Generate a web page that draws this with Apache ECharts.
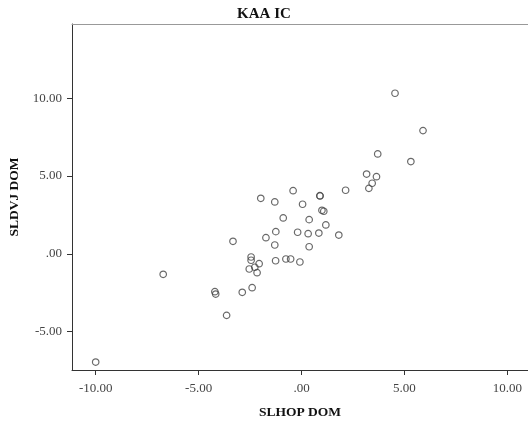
<!DOCTYPE html>
<html>
<head>
<meta charset="utf-8">
<script src="https://cdn.jsdelivr.net/npm/echarts@6/dist/echarts.min.js"></script>
<style>html,body{margin:0;padding:0;background:#fff;}#c{width:528px;height:421px;}</style>
</head>
<body>
<div id="c"></div>
<script>
const titleText = "KAA IC";
const xName = "SLHOP DOM";
const yName = "SLDVJ DOM";
const xTicks = [-10, -5, 0, 5, 10];
const yTicks = [-5, 0, 5, 10];
const xVals = [4.54, 5.90, 3.70, 5.31, 3.16, 3.64, 3.43, 3.27, 2.14, -0.41, 0.89, 0.90, -1.98, -1.30, 0.05, 0.99, 1.08, -0.89, 0.37, 1.18, -1.25, -0.19, 0.32, 0.84, 1.81, -1.73, -3.33, -1.30, 0.37, -2.45, -2.45, -1.26, -0.76, -0.53, -0.08, -2.06, -2.27, -2.54, -2.16, -6.72, -4.21, -4.17, -2.88, -2.40, -3.64, -10.0];
const yVals = [10.32, 7.92, 6.42, 5.93, 5.13, 4.96, 4.54, 4.21, 4.09, 4.06, 3.74, 3.72, 3.57, 3.34, 3.19, 2.80, 2.74, 2.31, 2.20, 1.86, 1.43, 1.39, 1.30, 1.34, 1.21, 1.04, 0.81, 0.57, 0.46, -0.20, -0.41, -0.44, -0.33, -0.33, -0.52, -0.63, -0.86, -0.97, -1.21, -1.31, -2.43, -2.58, -2.47, -2.17, -3.95, -6.95];

function fmt(v) {
  if (v === 0) return '.00';
  return v.toFixed(2);
}
const pts = xVals.map((x, i) => [x, yVals[i]]);
const chart = echarts.init(document.getElementById('c'), null, {renderer: 'canvas'});
chart.setOption({
  animation: false,
  backgroundColor: '#ffffff',
  title: {
    text: titleText, left: 'center', top: 2,
    textStyle: {fontFamily: 'Liberation Serif', fontWeight: 'bold', fontSize: 15, color: '#111'}
  },
  grid: {left: 72, top: 24, right: 0, bottom: 51, show: false, containLabel: false, outerBoundsMode: 'none'},
  xAxis: [{
    type: 'value', min: -11.15, max: 11.0, position: 'bottom',
    name: xName, nameLocation: 'middle', nameGap: 36,
    nameTextStyle: {fontFamily: 'Liberation Serif', fontWeight: 'bold', fontSize: 13.5, color: '#111'},
    splitLine: {show: false},
    axisLine: {show: true, onZero: false, lineStyle: {color: '#333', width: 1}},
    axisTick: {show: true, customValues: xTicks, length: 5, lineStyle: {color: '#333'}},
    axisLabel: {customValues: xTicks, formatter: fmt, margin: 12, fontFamily: 'Liberation Serif', fontSize: 13, color: '#444'}
  }, {
    type: 'value', min: -11.15, max: 11.0, position: 'top',
    splitLine: {show: false},
    axisLine: {show: true, onZero: false, lineStyle: {color: '#999', width: 1}},
    axisTick: {show: false},
    axisLabel: {show: false}
  }],
  yAxis: {
    type: 'value', min: -7.46, max: 14.77,
    name: yName, nameLocation: 'middle', nameGap: 47, nameRotate: 90,
    nameTextStyle: {fontFamily: 'Liberation Serif', fontWeight: 'bold', fontSize: 13.5, color: '#111'},
    splitLine: {show: false},
    axisLine: {show: true, onZero: false, lineStyle: {color: '#333', width: 1}},
    axisTick: {show: true, customValues: yTicks, length: 5, lineStyle: {color: '#333'}},
    axisLabel: {customValues: yTicks, formatter: fmt, margin: 10, fontFamily: 'Liberation Serif', fontSize: 13, color: '#444'}
  },
  series: [{
    type: 'scatter',
    xAxisIndex: 0,
    data: pts,
    symbol: 'circle',
    symbolSize: 6.5,
    itemStyle: {color: 'rgba(255,255,255,0)', borderColor: '#444', borderWidth: 1.2}
  }]
});
</script>
</body>
</html>
